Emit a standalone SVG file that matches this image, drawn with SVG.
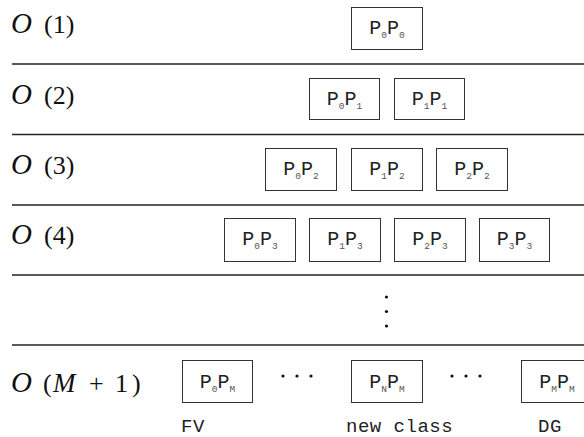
<svg xmlns="http://www.w3.org/2000/svg" width="584" height="437" viewBox="0 0 584 437">
  <style>
    .rule { stroke: #222; stroke-width: 1.5; }
    .box rect { fill: #fff; stroke: #333; stroke-width: 1; }
    .lbl { font-family: "Liberation Mono", "DejaVu Sans Mono", monospace; font-size: 20px; fill: #222; text-anchor: middle; }
    .sub { font-size: 9.5px; fill: #555; }
    .cap { font-family: "Liberation Mono", "DejaVu Sans Mono", monospace; font-size: 19px; letter-spacing: 0.5px; fill: #222; }
    .ord { font-family: "Liberation Serif", "DejaVu Serif", serif; font-size: 26px; fill: #111; }
    .cal { font-style: italic; font-size: 29px; }
    .mi { font-style: italic; font-size: 27px; }
    .dot { fill: #111; }
  </style>

  <!-- row separators -->
  <g id="rules">
    <line class="rule" x1="12" y1="64" x2="584" y2="64"/>
    <line class="rule" x1="12" y1="134.5" x2="584" y2="134.5"/>
    <line class="rule" x1="12" y1="205" x2="584" y2="205"/>
    <line class="rule" x1="12" y1="275" x2="584" y2="275"/>
    <line class="rule" x1="12" y1="345" x2="584" y2="345"/>
  </g>

  <!-- complexity labels -->
  <g id="order-labels">
    <text class="ord" y="33"><tspan class="cal" x="11">O</tspan><tspan x="44">(1)</tspan></text>
    <text class="ord" y="103.5"><tspan class="cal" x="11">O</tspan><tspan x="44">(2)</tspan></text>
    <text class="ord" y="174"><tspan class="cal" x="11">O</tspan><tspan x="44">(3)</tspan></text>
    <text class="ord" y="244"><tspan class="cal" x="11">O</tspan><tspan x="44">(4)</tspan></text>
    <text class="ord" y="392"><tspan class="cal" x="11">O</tspan><tspan x="43">(</tspan><tspan class="mi" x="53">M</tspan><tspan x="89">+</tspan><tspan x="115">1</tspan><tspan x="132">)</tspan></text>
  </g>

  <!-- row 1 -->
  <g id="p0p0" class="box"><rect x="351.5" y="7.5" width="71" height="42"/><text class="lbl" x="387" y="34">P<tspan class="sub" dy="4">0</tspan><tspan dy="-4">P</tspan><tspan class="sub" dy="4">0</tspan></text></g>

  <!-- row 2 -->
  <g id="p0p1" class="box"><rect x="309.5" y="78.5" width="70" height="41"/><text class="lbl" x="344.5" y="105">P<tspan class="sub" dy="4">0</tspan><tspan dy="-4">P</tspan><tspan class="sub" dy="4">1</tspan></text></g>
  <g id="p1p1" class="box"><rect x="394.5" y="78.5" width="70" height="41"/><text class="lbl" x="429.5" y="105">P<tspan class="sub" dy="4">1</tspan><tspan dy="-4">P</tspan><tspan class="sub" dy="4">1</tspan></text></g>

  <!-- row 3 -->
  <g id="p0p2" class="box"><rect x="265.5" y="148.5" width="71" height="42"/><text class="lbl" x="301" y="175">P<tspan class="sub" dy="4">0</tspan><tspan dy="-4">P</tspan><tspan class="sub" dy="4">2</tspan></text></g>
  <g id="p1p2" class="box"><rect x="351.5" y="148.5" width="71" height="42"/><text class="lbl" x="387" y="175">P<tspan class="sub" dy="4">1</tspan><tspan dy="-4">P</tspan><tspan class="sub" dy="4">2</tspan></text></g>
  <g id="p2p2" class="box"><rect x="436.5" y="148.5" width="71" height="42"/><text class="lbl" x="472" y="175">P<tspan class="sub" dy="4">2</tspan><tspan dy="-4">P</tspan><tspan class="sub" dy="4">2</tspan></text></g>

  <!-- row 4 -->
  <g id="p0p3" class="box"><rect x="224.5" y="218.5" width="71" height="43"/><text class="lbl" x="260" y="245">P<tspan class="sub" dy="4">0</tspan><tspan dy="-4">P</tspan><tspan class="sub" dy="4">3</tspan></text></g>
  <g id="p1p3" class="box"><rect x="309.5" y="218.5" width="71" height="43"/><text class="lbl" x="345" y="245">P<tspan class="sub" dy="4">1</tspan><tspan dy="-4">P</tspan><tspan class="sub" dy="4">3</tspan></text></g>
  <g id="p2p3" class="box"><rect x="394.5" y="218.5" width="71" height="43"/><text class="lbl" x="430" y="245">P<tspan class="sub" dy="4">2</tspan><tspan dy="-4">P</tspan><tspan class="sub" dy="4">3</tspan></text></g>
  <g id="p3p3" class="box"><rect x="479.5" y="218.5" width="70" height="43"/><text class="lbl" x="514.5" y="245">P<tspan class="sub" dy="4">3</tspan><tspan dy="-4">P</tspan><tspan class="sub" dy="4">3</tspan></text></g>

  <!-- vertical ellipsis -->
  <g id="vdots">
    <circle class="dot" cx="386.5" cy="297" r="1.6"/>
    <circle class="dot" cx="386.5" cy="311.5" r="1.6"/>
    <circle class="dot" cx="386.5" cy="326" r="1.6"/>
  </g>

  <!-- last row -->
  <g id="p0pm" class="box"><rect x="182.5" y="360.5" width="70" height="42"/><text class="lbl" x="217.5" y="387.5">P<tspan class="sub" dy="4">0</tspan><tspan dy="-4">P</tspan><tspan class="sub" dy="4">M</tspan></text></g>
  <g id="pnpm" class="box"><rect x="351.5" y="360.5" width="71" height="42"/><text class="lbl" x="387" y="387.5">P<tspan class="sub" dy="4">N</tspan><tspan dy="-4">P</tspan><tspan class="sub" dy="4">M</tspan></text></g>
  <g id="pmpm" class="box"><rect x="521.5" y="360.5" width="71" height="42"/><text class="lbl" x="557" y="387.5">P<tspan class="sub" dy="4">M</tspan><tspan dy="-4">P</tspan><tspan class="sub" dy="4">M</tspan></text></g>

  <g id="hdots">
    <circle class="dot" cx="283" cy="376" r="1.6"/>
    <circle class="dot" cx="297" cy="376" r="1.6"/>
    <circle class="dot" cx="311" cy="376" r="1.6"/>
    <circle class="dot" cx="452" cy="376" r="1.6"/>
    <circle class="dot" cx="466" cy="376" r="1.6"/>
    <circle class="dot" cx="480" cy="376" r="1.6"/>
  </g>

  <!-- captions -->
  <g id="captions">
    <text class="cap" x="181" y="432">FV</text>
    <text class="cap" x="346" y="432">new class</text>
    <text class="cap" x="538" y="432">DG</text>
  </g>
</svg>
